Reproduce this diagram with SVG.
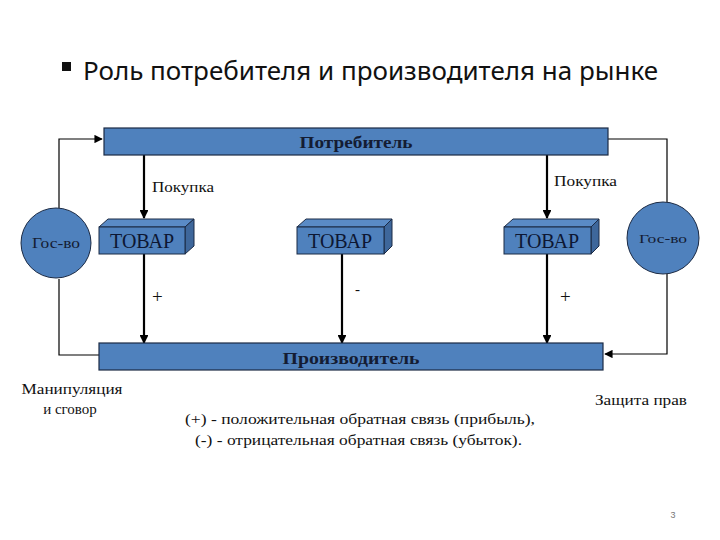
<svg xmlns="http://www.w3.org/2000/svg" width="720" height="540" viewBox="0 0 720 540">
<defs>
<style>
.bar{fill:#4F81BD;stroke:#1b2a44;stroke-width:1.2}
.front{fill:#4F81BD;stroke:#1b2a44;stroke-width:1}
.top{fill:#5a8bc6;stroke:#1b2a44;stroke-width:1}
.side{fill:#3e679b;stroke:#1b2a44;stroke-width:1}
.circ{fill:#4F81BD;stroke:#1b2a44;stroke-width:1}
.thin{fill:none;stroke:#000;stroke-width:1.2}
.thick{fill:none;stroke:#000;stroke-width:2.2}
.lbl{font-family:"Liberation Serif",serif;font-size:15px;fill:#111}
.sign{font-family:"Liberation Serif",serif;font-size:19px;fill:#111}
.barlbl{font-family:"Liberation Serif",serif;font-size:17px;font-weight:bold;fill:#141c33}
.tov{font-family:"Liberation Serif",serif;font-size:20px;fill:#0d1733}
.gos{font-family:"Liberation Serif",serif;fill:#141c33}
</style>
<marker id="ah" viewBox="0 0 10 10" refX="9" refY="5" markerWidth="4" markerHeight="4" orient="auto" markerUnits="strokeWidth">
<path d="M0,0 L10,5 L0,10 z" fill="#000"/>
</marker>
<marker id="ahs" viewBox="0 0 10 10" refX="9" refY="5" markerWidth="7" markerHeight="7" orient="auto" markerUnits="strokeWidth">
<path d="M0,0 L10,5 L0,10 z" fill="#000"/>
</marker>
</defs>
<rect width="720" height="540" fill="#fff"/>

<g id="title">
<rect x="62" y="62" width="9" height="9" fill="#111"/>
<text x="83" y="80" font-family="'Noto Sans','Open Sans',sans-serif" font-size="25" fill="#111" textLength="575" lengthAdjust="spacingAndGlyphs">Роль потребителя и производителя на рынке</text>
</g>

<g id="connectors">
<polyline class="thin" points="59,208 59,139 102,139" marker-end="url(#ahs)"/>
<polyline class="thin" points="59,279 59,355 99,355"/>
<polyline class="thin" points="608,139 667,139 667,202"/>
<polyline class="thin" points="667,274 667,354 605,354" marker-end="url(#ahs)"/>
<line class="thick" x1="144" y1="155" x2="144" y2="218" marker-end="url(#ah)"/>
<line class="thick" x1="144" y1="254" x2="144" y2="343" marker-end="url(#ah)"/>
<line class="thick" x1="342" y1="254" x2="342" y2="343" marker-end="url(#ah)"/>
<line class="thick" x1="547" y1="155" x2="547" y2="218" marker-end="url(#ah)"/>
<line class="thick" x1="547" y1="254" x2="547" y2="343" marker-end="url(#ah)"/>
<text class="lbl" x="152" y="192" textLength="62" lengthAdjust="spacingAndGlyphs">Покупка</text>
<text class="lbl" x="554" y="186" textLength="63" lengthAdjust="spacingAndGlyphs">Покупка</text>
<text class="sign" x="152" y="303">+</text>
<text class="lbl" x="355" y="294">-</text>
<text class="sign" x="560" y="303">+</text>
</g>

<g id="consumer">
<rect class="bar" x="104" y="128" width="504" height="27"/>
<text class="barlbl" x="356" y="148" text-anchor="middle" textLength="113" lengthAdjust="spacingAndGlyphs">Потребитель</text>
</g>

<g id="producer">
<rect class="bar" x="99" y="343" width="504" height="27"/>
<text class="barlbl" x="351" y="364" text-anchor="middle" textLength="137" lengthAdjust="spacingAndGlyphs">Производитель</text>
</g>

<g id="gos-left">
<circle class="circ" cx="56" cy="243" r="35"/>
<text class="gos" x="56" y="248" font-size="15" text-anchor="middle" textLength="48" lengthAdjust="spacingAndGlyphs">Гос-во</text>
</g>

<g id="gos-right">
<circle class="circ" cx="663" cy="238" r="36"/>
<text class="gos" x="663" y="243" font-size="13" text-anchor="middle" textLength="48" lengthAdjust="spacingAndGlyphs">Гос-во</text>
</g>

<g id="tovar-left">
<polygon class="top" points="99,227 108,219 194,219 185,227"/>
<polygon class="side" points="185,227 194,219 194,246 185,254"/>
<rect class="front" x="99" y="227" width="86" height="27"/>
<text class="tov" x="142" y="248" text-anchor="middle">ТОВАР</text>
</g>

<g id="tovar-mid">
<polygon class="top" points="297,227 306,219 392,219 384,227"/>
<polygon class="side" points="384,227 392,219 392,246 384,254"/>
<rect class="front" x="297" y="227" width="87" height="27"/>
<text class="tov" x="340" y="248" text-anchor="middle">ТОВАР</text>
</g>

<g id="tovar-right">
<polygon class="top" points="504,227 513,219 599,219 591,227"/>
<polygon class="side" points="591,227 599,219 599,246 591,254"/>
<rect class="front" x="504" y="227" width="87" height="27"/>
<text class="tov" x="547" y="248" text-anchor="middle">ТОВАР</text>
</g>

<g id="notes">
<text class="lbl" x="72" y="394" text-anchor="middle" textLength="101" lengthAdjust="spacingAndGlyphs">Манипуляция</text>
<text class="lbl" x="70" y="414" text-anchor="middle">и сговор</text>
<text class="lbl" x="595" y="405" textLength="92" lengthAdjust="spacingAndGlyphs">Защита прав</text>
<text class="lbl" x="185" y="424" textLength="350" lengthAdjust="spacingAndGlyphs">(+) - положительная обратная связь (прибыль),</text>
<text class="lbl" x="195" y="445" textLength="327" lengthAdjust="spacingAndGlyphs">(-) - отрицательная обратная связь (убыток).</text>
<text x="673" y="518" font-family="'Liberation Sans',sans-serif" font-size="9" fill="#777" text-anchor="middle">3</text>
</g>
</svg>
